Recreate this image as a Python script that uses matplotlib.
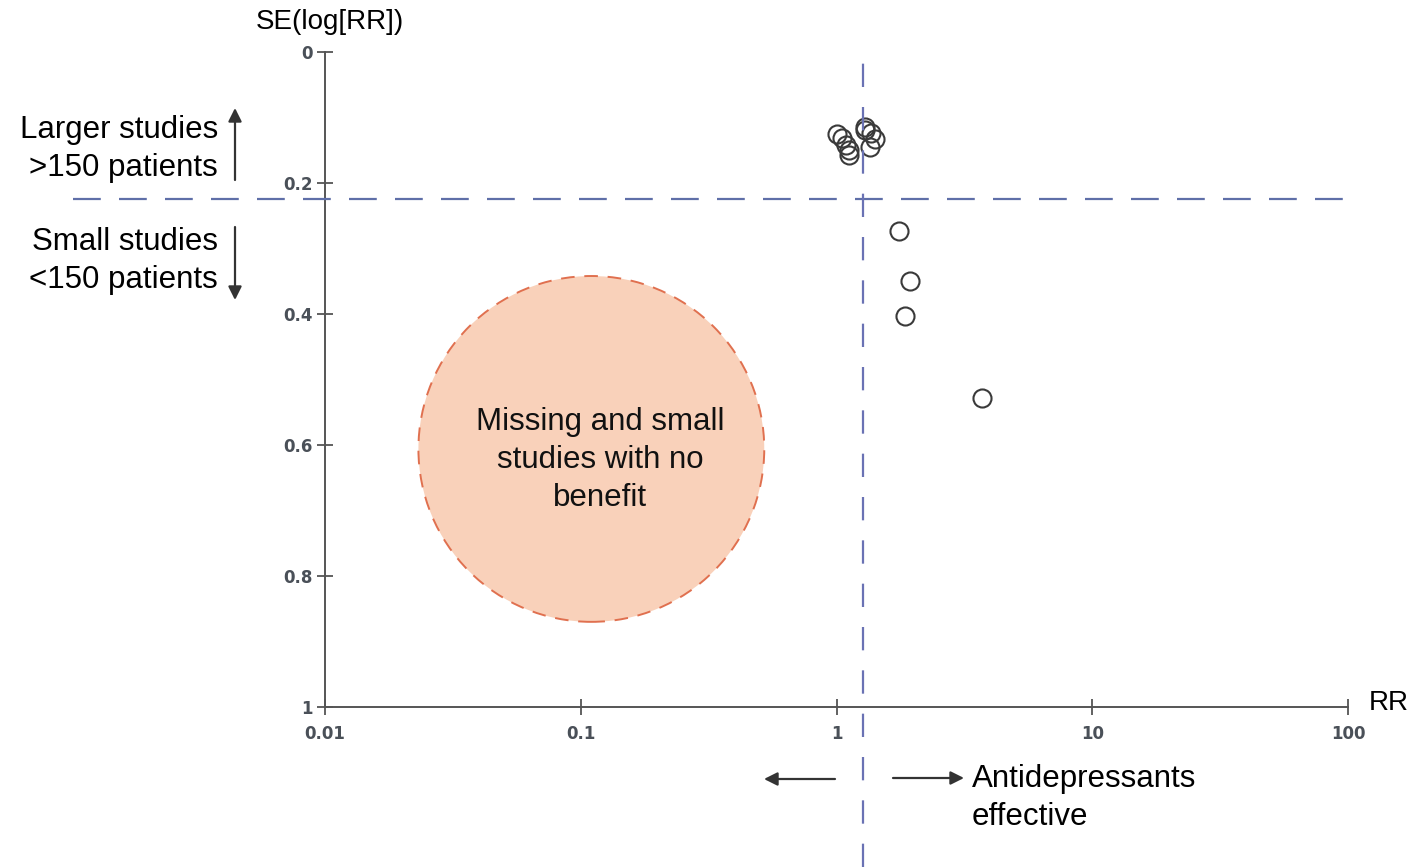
import matplotlib
matplotlib.use("Agg")
import matplotlib.pyplot as plt
from matplotlib.patches import Ellipse
from matplotlib.lines import Line2D
from matplotlib.text import Annotation
from matplotlib.transforms import blended_transform_factory

# studies
rr = [1.00, 1.055, 1.094, 1.124, 1.124, 1.298, 1.298, 1.37, 1.42, 1.35,
      1.75, 1.94, 1.85, 3.69]
se = [0.125, 0.131, 0.142, 0.150, 0.157, 0.115, 0.119, 0.124, 0.133, 0.145,
      0.273, 0.349, 0.403, 0.528]

x_ticks = [0.01, 0.1, 1, 10, 100]
x_labels = ["0.01", "0.1", "1", "10", "100"]
y_ticks = [0, 0.2, 0.4, 0.6, 0.8, 1]
y_labels = ["0", "0.2", "0.4", "0.6", "0.8", "1"]

rr_pooled = 1.27      # vertical dashed line
se_cutoff = 0.224     # 150 patients split
gap_center = (0.11, 0.606)   # missing-studies region (RR, SE)
gap_radius = 0.264           # in SE units

W, H = 1415, 867
fig = plt.figure(figsize=(W / 100, H / 100), dpi=100)
ax = fig.add_axes([325 / W, (H - 707) / H, 1023 / W, 655 / H])

ax.set_xscale("log")
ax.set_xlim(0.01, 100)
ax.set_ylim(1, 0)
ax.set_xticks(x_ticks)
ax.set_xticklabels(x_labels)
ax.set_yticks(y_ticks)
ax.set_yticklabels(y_labels)
ax.minorticks_off()
for s in ["top", "right"]:
    ax.spines[s].set_visible(False)
for s in ["left", "bottom"]:
    ax.spines[s].set_color("#555555")
    ax.spines[s].set_linewidth(1.4)
ax.tick_params(direction="inout", length=12, width=1.3, color="#555555",
               labelsize=12, labelcolor="#4a5058")
ax.tick_params(axis="x", pad=7)
ax.tick_params(axis="y", pad=3)
for lab in ax.get_xticklabels() + ax.get_yticklabels():
    lab.set_fontweight("bold")

# missing-studies circle (kept round on screen)
ax_w_px = 1023
ax_h_px = 655
cx, cy = ax.transAxes.inverted().transform(ax.transData.transform(gap_center))
circ = Ellipse((cx, cy), 2 * gap_radius * ax_h_px / ax_w_px, 2 * gap_radius,
               transform=ax.transAxes, facecolor="#f9d1ba",
               edgecolor="#e0704f", linewidth=1.4, linestyle=(0, (7, 5)),
               zorder=1)
ax.add_patch(circ)
ax.text(gap_center[0] * 1.08, gap_center[1] + 0.017,
        "Missing and small\nstudies with no\nbenefit",
        ha="center", va="center", fontsize=22.5, family="Liberation Sans",
        linespacing=1.36, color="#111111", zorder=2)

# studies
ax.plot(rr, se, "o", markersize=13, markerfacecolor="none",
        markeredgecolor="#3a3a3a", markeredgewidth=1.5, zorder=3)

# dashed reference lines extending past the axes
tr_h = blended_transform_factory(fig.transFigure, ax.transData)
fig.add_artist(Line2D([73 / W, 1355 / W], [se_cutoff, se_cutoff],
                      transform=tr_h, color="#5f6fa8", linewidth=1.6,
                      dashes=(12.5, 8.2)))
tr_v = blended_transform_factory(ax.transData, fig.transFigure)
fig.add_artist(Line2D([rr_pooled, rr_pooled], [0, (H - 52) / H],
                      transform=tr_v, color="#6a72b4", linewidth=1.6,
                      dashes=(10.5, 9)))

# labels and side annotations
fig.text(330 / W, 1 - 22 / H, "SE(log[RR])", ha="center", va="center",
         fontsize=20, family="Liberation Sans")
fig.text(1369 / W, 1 - 703 / H, "RR", ha="left", va="center",
         fontsize=20, family="Liberation Sans")
fig.text(218 / W, 1 - 149 / H, "Larger studies\n>150 patients", ha="right",
         va="center", ma="right", fontsize=22.5, family="Liberation Sans",
         linespacing=1.36)
fig.text(218 / W, 1 - 261 / H, "Small studies\n<150 patients", ha="right",
         va="center", ma="right", fontsize=22.5, family="Liberation Sans",
         linespacing=1.36)
fig.text(972 / W, 1 - 798 / H, "Antidepressants\neffective", ha="left",
         va="center", fontsize=22.5, family="Liberation Sans",
         linespacing=1.36)

arrow = dict(arrowstyle="-|>", color="#333333", lw=1.6,
             mutation_scale=20, shrinkA=0, shrinkB=0)
for start, end in [((235, 180), (235, 108)), ((235, 227), (235, 300)),
                   ((835, 779), (764, 779)), ((893, 778), (964, 778))]:
    fig.add_artist(Annotation(
        "", xy=(end[0] / W, 1 - end[1] / H),
        xytext=(start[0] / W, 1 - start[1] / H),
        xycoords=fig.transFigure, textcoords=fig.transFigure,
        arrowprops=arrow))

fig.savefig("out.png", dpi=100)
